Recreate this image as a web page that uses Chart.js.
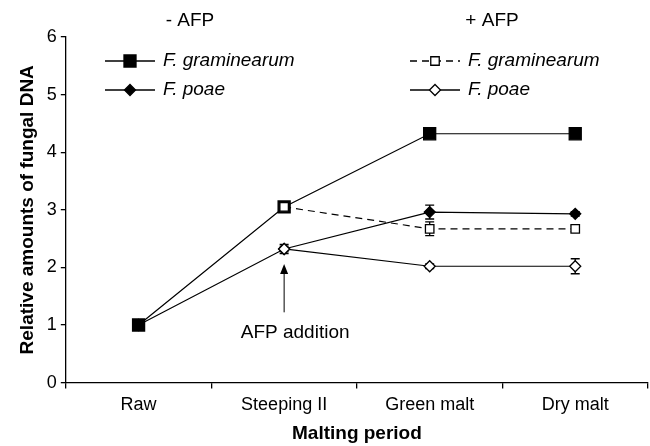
<!DOCTYPE html>
<html>
<head>
<meta charset="utf-8">
<script src="https://cdn.jsdelivr.net/npm/chart.js@4.4.0/dist/chart.umd.min.js"></script>
<style>
  html, body { margin: 0; padding: 0; background: #fff; }
  #wrap { width: 650px; height: 446px; position: relative; }
</style>
</head>
<body>
<div id="wrap"><canvas id="c" width="650" height="446"></canvas></div>
<script>
// Fungal DNA during malting, with and without AFP
const periods = ['Raw', 'Steeping II', 'Green malt', 'Dry malt'];
const yTicks = [0, 1, 2, 3, 4, 5, 6];

const gramNoAfp = [1, 3.05, 4.32, 4.32];
const poaeNoAfp = [1, 2.32, 2.96, 2.93];
const gramAfp = [null, 3.05, 2.67, 2.67];
const poaeAfp = [null, 2.32, 2.02, 2.02];

const gramNoAfpErr = [0, 0.05, 0.03, 0.03];
const poaeNoAfpErr = [0, 0.05, 0.12, 0.04];
const gramAfpErr = [null, 0.05, 0.12, 0.05];
const poaeAfpErr = [null, 0.08, 0.04, 0.13];

const FONT = 'Arial, "Liberation Sans", sans-serif';

// error bars, drawn under the markers
const errorBars = {
  id: 'errorBars',
  beforeDatasetsDraw(chart) {
    const ctx = chart.ctx, x = chart.scales.x, y = chart.scales.y;
    ctx.save();
    ctx.strokeStyle = '#000';
    ctx.lineWidth = 1.3;
    chart.data.datasets.forEach(function (ds) {
      ds.data.forEach(function (v, i) {
        const e = ds.err[i];
        if (v == null || !e) return;
        const px = x.getPixelForValue(i);
        const top = y.getPixelForValue(v + e), bot = y.getPixelForValue(v - e);
        ctx.beginPath();
        ctx.moveTo(px, top); ctx.lineTo(px, bot);
        ctx.moveTo(px - 4.5, top); ctx.lineTo(px + 4.5, top);
        ctx.moveTo(px - 4.5, bot); ctx.lineTo(px + 4.5, bot);
        ctx.stroke();
      });
    });
    ctx.restore();
  }
};

// legend block with the two group headers, and the AFP arrow
const extras = {
  id: 'extras',
  afterDraw(chart) {
    const ctx = chart.ctx, x = chart.scales.x, y = chart.scales.y;
    ctx.save();
    ctx.fillStyle = '#000';
    ctx.strokeStyle = '#000';
    ctx.textBaseline = 'middle';

    ctx.font = '19px ' + FONT;
    ctx.textAlign = 'center';
    ctx.fillText('- AFP', 190, 21);
    ctx.fillText('+ AFP', 492, 21);

    const rows = [
      { x0: 105, y0: 61, dash: [], style: 'rect', r: 8.5, fill: '#000' },
      { x0: 105, y0: 90, dash: [], style: 'rectRot', r: 5.5, fill: '#000' },
      { x0: 410, y0: 61, dash: [7, 5], style: 'rect', r: 6, fill: '#fff' },
      { x0: 410, y0: 90, dash: [], style: 'rectRot', r: 5.5, fill: '#fff' }
    ];
    rows.forEach(function (r) {
      ctx.lineWidth = 1.3;
      ctx.setLineDash(r.dash);
      ctx.beginPath();
      ctx.moveTo(r.x0, r.y0); ctx.lineTo(r.x0 + 50, r.y0);
      ctx.stroke();
      ctx.setLineDash([]);
      ctx.fillStyle = r.fill;
      Chart.helpers.drawPoint(ctx, { pointStyle: r.style, radius: r.r, borderWidth: 1.3 }, r.x0 + 25, r.y0);
      ctx.fillStyle = '#000';
    });
    ctx.font = 'italic 19px ' + FONT;
    ctx.textAlign = 'left';
    ctx.fillText('F. graminearum', 163, 61);
    ctx.fillText('F. poae', 163, 90);
    ctx.fillText('F. graminearum', 468, 61);
    ctx.fillText('F. poae', 468, 90);

    // AFP addition arrow
    const ax = x.getPixelForValue(1);
    const tip = y.getPixelForValue(2.06), base = y.getPixelForValue(1.22);
    ctx.lineWidth = 1;
    ctx.beginPath();
    ctx.moveTo(ax, base); ctx.lineTo(ax, tip + 8);
    ctx.stroke();
    ctx.beginPath();
    ctx.moveTo(ax, tip); ctx.lineTo(ax - 4, tip + 10); ctx.lineTo(ax + 4, tip + 10);
    ctx.closePath();
    ctx.fill();
    ctx.font = '19px ' + FONT;
    ctx.textAlign = 'center';
    ctx.fillText('AFP addition', ax + 11, y.getPixelForValue(0.87));
    ctx.restore();
  }
};

function series(data, err, dash, style, r, fill) {
  return {
    data: data, err: err,
    borderColor: '#000', borderWidth: 1.2, borderDash: dash,
    pointStyle: style, pointRadius: r, pointHoverRadius: r,
    pointBackgroundColor: fill, pointBorderColor: '#000', pointBorderWidth: 1.3,
    fill: false, tension: 0, spanGaps: false
  };
}

new Chart(document.getElementById('c'), {
  type: 'line',
  data: {
    labels: periods,
    datasets: [
      series(gramAfp, gramAfpErr, [7, 5], 'rect', 6, '#fff'),
      series(poaeAfp, poaeAfpErr, [], 'rectRot', 5.5, '#fff'),
      series(gramNoAfp, gramNoAfpErr, [], 'rect', 8.5, '#000'),
      series(poaeNoAfp, poaeNoAfpErr, [], 'rectRot', 5.5, '#000')
    ]
  },
  options: {
    responsive: false,
    animation: false,
    devicePixelRatio: 1,
    layout: { autoPadding: false, padding: { top: 37, right: 2, left: 16, bottom: 1 } },
    plugins: { legend: { display: false }, tooltip: { enabled: false } },
    scales: {
      x: {
        offset: true,
        afterFit: function (s) { s.paddingLeft = 0; s.paddingRight = 0; },
        grid: { offset: true, drawOnChartArea: false, tickLength: 6, color: '#000', lineWidth: 1.3 },
        border: { color: '#000', width: 1.3 },
        ticks: { color: '#000', font: { family: FONT, size: 18 }, padding: 6, maxRotation: 0, autoSkip: false },
        title: { display: true, text: 'Malting period', color: '#000',
                 font: { family: FONT, size: 19, weight: 'bold' }, padding: { top: 0, bottom: 0 } }
      },
      y: {
        min: 0, max: 6,
        afterBuildTicks: function (s) { s.ticks = yTicks.map(function (v) { return { value: v }; }); },
        grid: { drawOnChartArea: false, tickLength: 5, color: '#000', lineWidth: 1.3 },
        border: { color: '#000', width: 1.3 },
        ticks: { color: '#000', font: { family: FONT, size: 18 }, padding: 4 },
        title: { display: true, text: 'Relative amounts of fungal DNA', color: '#000',
                 font: { family: FONT, size: 19, weight: 'bold' }, padding: { top: 0, bottom: 4 } }
      }
    }
  },
  plugins: [errorBars, extras]
});
</script>
</body>
</html>
